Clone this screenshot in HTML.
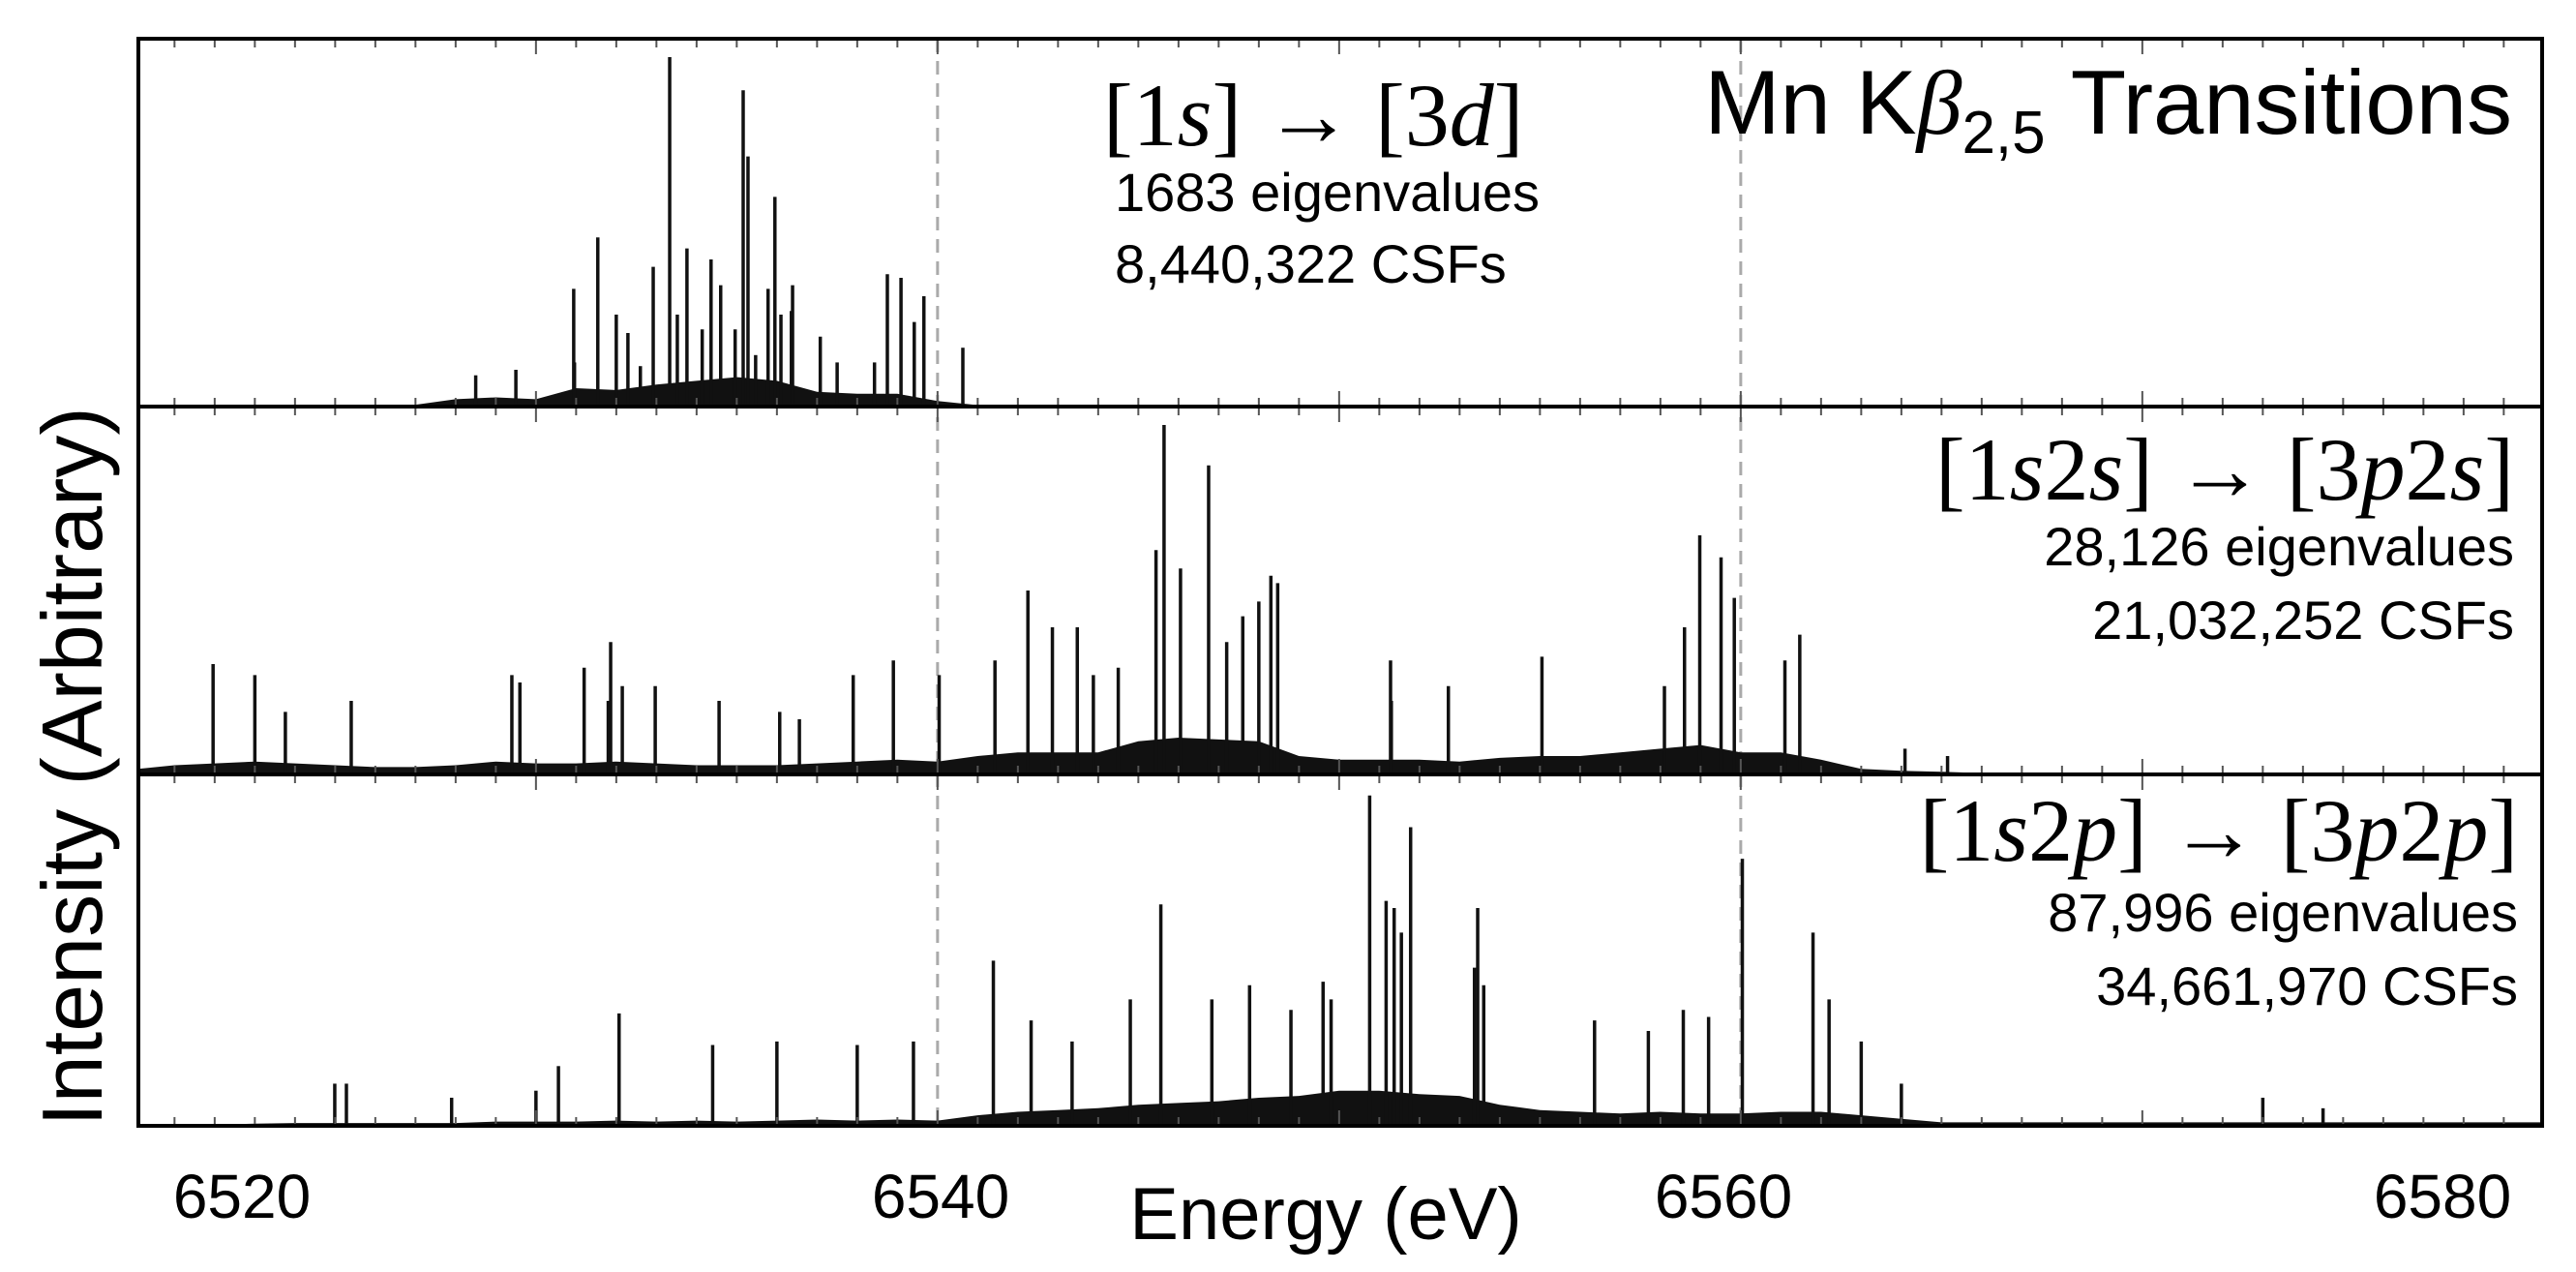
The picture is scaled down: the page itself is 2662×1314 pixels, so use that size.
<!DOCTYPE html>
<html><head><meta charset="utf-8">
<style>
html,body{margin:0;padding:0;background:#fff;}
svg{display:block;}
text{font-family:"Liberation Sans",sans-serif;fill:#000;}
.m{font-family:"Liberation Serif",serif;}
</style></head>
<body>
<svg id="chart" width="2662" height="1314" viewBox="0 0 2662 1314" xmlns="http://www.w3.org/2000/svg">
<g id="plot"></g>
<text x="2596" y="138" font-size="94" text-anchor="end">Mn K<tspan class="m" font-style="italic">β</tspan><tspan font-size="62" dy="20">2,5</tspan><tspan dy="-20"> Transitions</tspan></text>
<g>
<text class="m" x="1140" y="150" font-size="92">[1<tspan font-style="italic">s</tspan>] → [3<tspan font-style="italic">d</tspan>]</text>
<text x="1152" y="218" font-size="56">1683 eigenvalues</text>
<text x="1152" y="292" font-size="56">8,440,322 CSFs</text>
</g>
<g text-anchor="end">
<text class="m" x="2598" y="516" font-size="92">[1<tspan font-style="italic">s</tspan>2<tspan font-style="italic">s</tspan>] → [3<tspan font-style="italic">p</tspan>2<tspan font-style="italic">s</tspan>]</text>
<text x="2598" y="584" font-size="56">28,126 eigenvalues</text>
<text x="2598" y="660" font-size="56">21,032,252 CSFs</text>
</g>
<g text-anchor="end">
<text class="m" x="2602" y="889" font-size="92">[1<tspan font-style="italic">s</tspan>2<tspan font-style="italic">p</tspan>] → [3<tspan font-style="italic">p</tspan>2<tspan font-style="italic">p</tspan>]</text>
<text x="2602" y="962" font-size="56">87,996 eigenvalues</text>
<text x="2602" y="1038" font-size="56">34,661,970 CSFs</text>
</g>
<text x="1370" y="1280" font-size="76" text-anchor="middle">Energy (eV)</text>
<text transform="translate(105,792) rotate(-90)" font-size="88" text-anchor="middle">Intensity (Arbitrary)</text>
</svg>
<script>
const xTicks=[6520,6540,6560,6580];
const xTickLabelPos=[250,972,1781,2524];
const dashedLines=[6540,6560];
const p1E=[6533.33,6535.16,6531.54,6530.94,6532.92,6533.76,6534.36,6534.6,6535.28,6535.95,6535.78,6536.36,6536.39,6538.75,6539.09,6539.66,6540.63,6538.43,6532.29,6532.6,6532.0,6528.5,6529.5,6537.08,6537.5,6539.42,6534.96,6534.14,6533.52,6530.96,6536.1,6535.47];
const p1H=[0.95,0.86,0.46,0.32,0.38,0.43,0.40,0.33,0.68,0.57,0.32,0.26,0.33,0.36,0.35,0.30,0.16,0.12,0.20,0.11,0.25,0.085,0.10,0.19,0.12,0.23,0.21,0.21,0.25,0.12,0.25,0.14];
const p1Env=[0,0,0,0,0,0,0,0.005,0.02,0.025,0.02,0.05,0.045,0.06,0.07,0.08,0.07,0.04,0.035,0.035,0.015,0.004,0,0,0,0,0,0,0,0,0,0,0,0,0,0,0,0,0,0,0,0,0,0,0,0,0,0,0,0,0,0,0,0,0,0,0,0,0,0,0];
const p2E=[6545.64,6546.75,6546.05,6545.44,6548.3,6548.47,6548.0,6547.6,6547.2,6558.98,6559.51,6559.84,6558.6,6561.47,6561.1,6558.1,6555.05,6552.72,6551.3,6551.28,6542.25,6542.86,6541.43,6543.48,6544.5,6543.88,6540.04,6538.9,6537.9,6531.86,6532.15,6531.8,6531.2,6529.4,6529.6,6521.96,6523.0,6523.76,6525.4,6532.97,6534.56,6536.07,6536.56,6564.09,6565.15];
const p2H=[0.95,0.84,0.56,0.61,0.54,0.52,0.47,0.43,0.36,0.65,0.59,0.48,0.40,0.38,0.31,0.24,0.32,0.24,0.2,0.31,0.50,0.40,0.31,0.40,0.29,0.27,0.27,0.31,0.27,0.36,0.24,0.20,0.29,0.27,0.25,0.30,0.27,0.17,0.20,0.24,0.20,0.17,0.15,0.07,0.05];
const p2Env=[0.015,0.025,0.03,0.035,0.03,0.025,0.02,0.02,0.025,0.035,0.03,0.03,0.035,0.03,0.025,0.025,0.025,0.03,0.035,0.04,0.035,0.05,0.06,0.06,0.06,0.09,0.1,0.095,0.09,0.05,0.04,0.04,0.04,0.035,0.045,0.05,0.05,0.06,0.07,0.08,0.06,0.06,0.04,0.015,0.01,0.007,0.004,0.003,0.003,0.003,0.003,0.003,0.003,0.003,0.003,0.003,0.003,0.003,0.003,0.003,0.003];
const p3E=[6550.76,6551.78,6551.17,6551.37,6551.55,6553.45,6553.37,6553.6,6560.04,6561.8,6562.2,6545.56,6541.39,6544.8,6546.83,6547.77,6548.8,6549.6,6549.8,6556.36,6557.7,6558.57,6563.0,6559.2,6532.07,6534.4,6536.0,6538.0,6539.4,6530.56,6530.0,6527.9,6524.99,6525.28,6542.33,6543.35,6564.0,6573.0,6574.5];
const p3H=[0.94,0.85,0.64,0.62,0.55,0.62,0.45,0.40,0.76,0.55,0.36,0.63,0.47,0.36,0.36,0.40,0.33,0.41,0.36,0.30,0.27,0.33,0.24,0.31,0.32,0.23,0.24,0.23,0.24,0.17,0.10,0.08,0.12,0.12,0.30,0.24,0.12,0.08,0.05];
const p3Env=[0.004,0.004,0.004,0.006,0.008,0.008,0.008,0.008,0.008,0.012,0.012,0.012,0.015,0.012,0.015,0.012,0.015,0.018,0.015,0.018,0.015,0.03,0.04,0.045,0.05,0.06,0.065,0.07,0.08,0.085,0.1,0.1,0.09,0.085,0.06,0.045,0.04,0.035,0.04,0.035,0.035,0.04,0.04,0.03,0.02,0.01,0.01,0.01,0.01,0.01,0.01,0.01,0.01,0.01,0.01,0.01,0.01,0.01,0.01,0.01,0.01];

const NS='http://www.w3.org/2000/svg';
const plot=document.getElementById('plot');
const X0=143,X1=2627,E0=6520.1,PX=41.5;
function xs(e){return X0+(e-E0)*PX;}
const panels=[{top:40,bot:420,E:p1E,H:p1H,env:p1Env,name:'panel-1s-3d'},{top:420,bot:800,E:p2E,H:p2H,env:p2Env,name:'panel-1s2s-3p2s'},{top:800,bot:1163,E:p3E,H:p3H,env:p3Env,name:'panel-1s2p-3p2p'}];
function mk(tag,attrs,parent){const el=document.createElementNS(NS,tag);for(const k in attrs)el.setAttribute(k,attrs[k]);parent.appendChild(el);return el;}

dashedLines.forEach(e=>{
  const l=mk('line',{x1:xs(e),x2:xs(e),y1:40,y2:1163,stroke:'#aaa','stroke-width':3,'stroke-dasharray':'14 9'},plot);
  
  
});

panels.forEach(p=>{
  const g=mk('g',{},plot);
  
  
  const h=p.bot-p.top;
  let d='M'+xs(E0)+','+p.bot;
  p.env.forEach((v,i)=>{const e=6520+i;d+=' L'+xs(Math.max(e,E0)).toFixed(1)+','+(p.bot-v*h).toFixed(1);});
  d+=' L'+xs(6580)+','+p.bot+' Z';
  const env=mk('path',{d:d,fill:'#111'},g);
  
  
  p.E.forEach((e,i)=>{
    const s=mk('line',{x1:xs(e),x2:xs(e),y1:p.bot,y2:p.bot-p.H[i]*h,stroke:'#111','stroke-width':3.5},g);
    
    
  });
  for(let e=6521;e<=6582;e++){
    const x=xs(e); if(x<X0+2||x>X1-2)continue;
    const major=(e%10===0);
    mk('line',{x1:x,x2:x,y1:p.top,y2:p.top+(major?16:9),stroke:'#555','stroke-width':2},g);
    mk('line',{x1:x,x2:x,y1:p.bot,y2:p.bot-(major?16:9),stroke:'#555','stroke-width':2},g);
  }
  const fr=mk('rect',{x:X0,y:p.top,width:X1-X0,height:h,fill:'none',stroke:'#000','stroke-width':4},g);
  
  
});

xTicks.forEach((t,i)=>{
  const tx=mk('text',{x:xTickLabelPos[i],y:1258,'font-size':64,'text-anchor':'middle'},plot);
  tx.textContent=t;
  
  
});
</script>
</body></html>
